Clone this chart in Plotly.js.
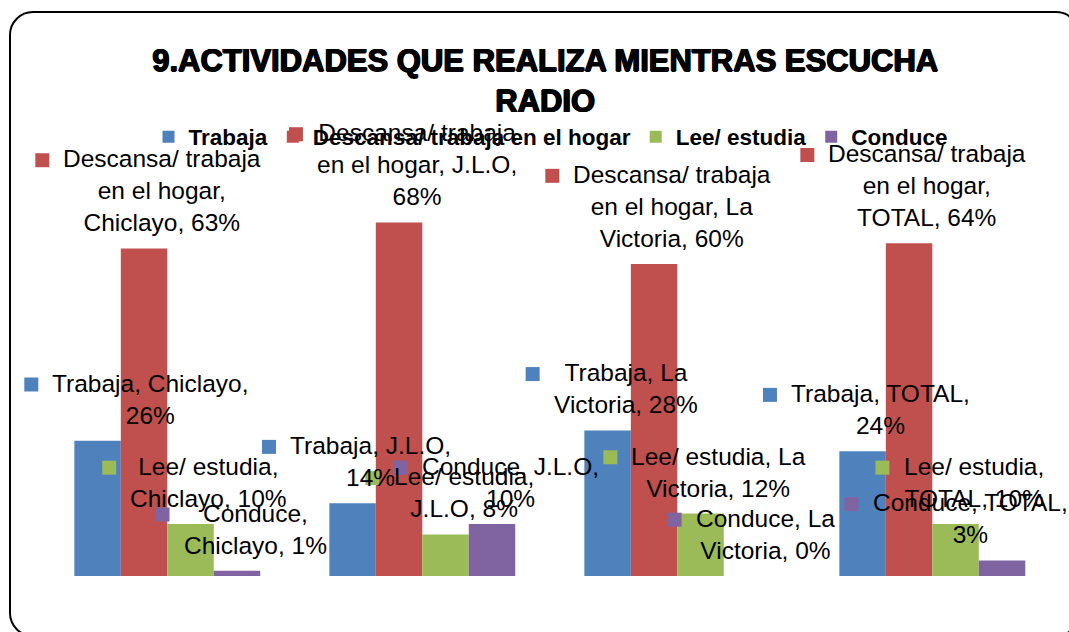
<!DOCTYPE html>
<html><head><meta charset="utf-8">
<script src="https://cdn.plot.ly/plotly-3.0.1.min.js"></script>
<style>
html,body{margin:0;padding:0;background:#fff;}
#wrap{position:relative;width:1069px;height:632px;overflow:hidden;}
#frame{position:absolute;left:9px;top:11px;width:1071px;height:626px;border:2px solid #000;border-radius:24px;box-sizing:border-box;}
#chart{position:absolute;left:0;top:0;width:1069px;height:632px;}
</style></head>
<body><div id="wrap"><div id="frame"></div><div id="chart"></div></div>
<script>
// ---- data ----
const categories = ['Chiclayo', 'J.L.O', 'La Victoria', 'TOTAL'];
const seriesNames = ['Trabaja', 'Descansa/ trabaja en el hogar', 'Lee/ estudia', 'Conduce'];
const trabaja = [26, 14, 28, 24];
const descansa = [63, 68, 60, 64];
const leeEstudia = [10, 8, 12, 10];
const conduce = [1, 10, 0, 3];
const seriesValues = [trabaja, descansa, leeEstudia, conduce];
const colors = ['#4F81BD', '#C0504D', '#9BBB59', '#8064A2'];

// ---- style / layout constants ----
const FONT = 'Liberation Sans';
const FS = 24.5;             // data label font size
const BARGAP = 0.271;
const LABEL_DX = 18;         // px shift of label text centre
const LABEL_DY = 11;         // px gap above bar top
const extraShift = {'0,0': 35, '3,3': -50}; // manually moved labels (px)

const ctx = document.createElement('canvas').getContext('2d');
ctx.font = FS + 'px "' + FONT + '"';
function wrap(str, maxW) {
  const words = str.split(' ');
  const lines = [];
  let cur = '';
  for (const w of words) {
    const t = cur ? cur + ' ' + w : w;
    if (cur && ctx.measureText(t).width > maxW) { lines.push(cur); cur = w; }
    else cur = t;
  }
  lines.push(cur);
  return lines;
}

const traces = seriesNames.map((name, s) => ({
  type: 'bar', name: name, x: categories, y: seriesValues[s],
  marker: {color: colors[s], line: {width: 0}}, hoverinfo: 'skip'
}));

const barW = (1 - BARGAP) / seriesNames.length;
const annotations = [];
const shapes = [];
seriesNames.forEach((name, s) => {
  categories.forEach((cat, c) => {
    const val = seriesValues[s][c];
    const lines = wrap(name + ', ' + cat + ', ' + val + '%', 8.45 * FS);
    const W = Math.max(...lines.map(l => ctx.measureText(l).width));
    const xPos = c + (s - (seriesNames.length - 1) / 2) * barW;
    const dx = LABEL_DX + (extraShift[s + ',' + c] || 0);
    annotations.push({
      xref: 'x', yref: 'y', x: xPos, y: val, showarrow: false,
      text: lines.join('<br>'), align: 'center',
      xanchor: 'center', yanchor: 'bottom', xshift: dx, yshift: LABEL_DY,
      borderpad: 0, font: {family: FONT, size: FS, color: '#000'}
    });
    const n = lines.length;
    const H = (n - 1) * 1.3 * FS + 1.15 * FS;
    const cy = LABEL_DY + H - 0.6 * FS;
    const cx = dx - W / 2 - 14 - 7;
    shapes.push({
      type: 'rect', xref: 'x', yref: 'y', xsizemode: 'pixel', ysizemode: 'pixel',
      xanchor: xPos, yanchor: val,
      x0: cx - 7, x1: cx + 7, y0: cy - 7, y1: cy + 7,
      fillcolor: colors[s], line: {width: 0}
    });
  });
});

const layout = {
  width: 1069, height: 632,
  paper_bgcolor: 'rgba(0,0,0,0)', plot_bgcolor: 'rgba(0,0,0,0)',
  margin: {l: 0, r: 0, t: 0, b: 56, autoexpand: false},
  barmode: 'group', bargap: BARGAP, bargroupgap: 0,
  title: {
    text: '9.ACTIVIDADES QUE REALIZA MIENTRAS ESCUCHA<br>RADIO',
    xref: 'container', yref: 'container', x: 0.51, xanchor: 'center',
    y: 0.887, yanchor: 'top',
    font: {family: FONT, size: 31, weight: 'bold', color: '#000',
           shadow: '0.8px 0 0 #000, -0.8px 0 0 #000, 0 0.6px 0 #000, 0 -0.6px 0 #000'}
  },
  showlegend: true,
  legend: {
    orientation: 'h', xref: 'paper', yref: 'paper',
    x: 0.515, xanchor: 'center', y: 0.762, yanchor: 'middle',
    font: {family: FONT, size: 22.5, weight: 'bold', color: '#000'},
    bgcolor: 'rgba(0,0,0,0)', traceorder: 'normal'
  },
  xaxis: {visible: false, type: 'category', range: [-0.656, 3.536]},
  yaxis: {visible: false, range: [0, 110.77]},
  annotations: annotations,
  shapes: shapes
};

Plotly.newPlot('chart', traces, layout, {staticPlot: true, displayModeBar: false});
</script>
</body></html>
